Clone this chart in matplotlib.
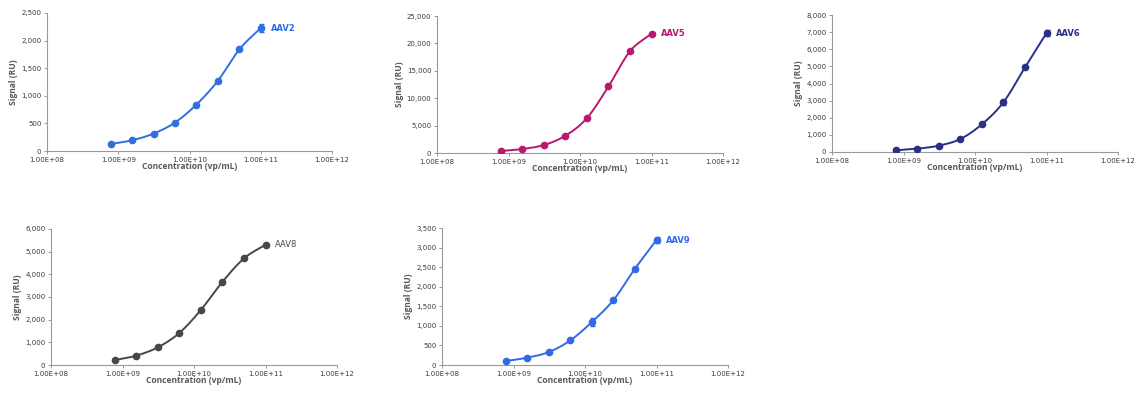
import numpy as np
import matplotlib
matplotlib.use("Agg")
import matplotlib.pyplot as plt
from matplotlib.ticker import FuncFormatter, FixedLocator, NullLocator

plt.rcParams['font.family'] = ['DejaVu Sans']

conc = [7.8e8, 1.56e9, 3.125e9, 6.25e9, 1.25e10, 2.5e10, 5e10, 1e11]

aav2 = [127, 194, 315, 515, 841, 1271, 1840, 2228]
aav2_err = [0, 0, 0, 0, 0, 0, 0, 70]
aav5 = [364, 728, 1456, 3155, 6371, 12136, 18568, 21784]
aav5_err = [0, 0, 0, 0, 0, 0, 0, 0]
aav6 = [98, 195, 371, 761, 1620, 2907, 4937, 6946]
aav6_err = [0, 0, 0, 0, 0, 150, 0, 160]
aav8 = [221, 413, 781, 1415, 2432, 3670, 4703, 5307]
aav8_err = [0, 0, 0, 0, 0, 0, 0, 0]
aav9 = [102, 187, 332, 630, 1098, 1660, 2461, 3193]
aav9_err = [0, 0, 0, 0, 100, 0, 40, 80]

names = ["AAV2", "AAV5", "AAV6", "AAV8", "AAV9"]
series = [aav2, aav5, aav6, aav8, aav9]
errs = [aav2_err, aav5_err, aav6_err, aav8_err, aav9_err]
ymaxs = [2500, 25000, 8000, 6000, 3500]
ysteps = [500, 5000, 1000, 1000, 500]
colors = ["#2F6FE0", "#B8186E", "#2A2F86", "#474747", "#2F6BE6"]
label_colors = ["#2F6FE0", "#B8186E", "#2A2F86", "#474747", "#2F6BE6"]
label_bold = [True, True, True, False, True]

xticks = [1e8, 1e9, 1e10, 1e11, 1e12]
xticklabels = ["1.00E+08", "1.00E+09", "1.00E+10", "1.00E+11", "1.00E+12"]

W, H = 1143, 397
# pixel boxes: left, right, top, bottom
boxes = [(47, 332, 13, 151), (437, 723, 16, 153), (832, 1118, 15, 152),
         (51, 337, 229, 365), (442, 728, 228, 365)]

fig = plt.figure(figsize=(W / 100, H / 100), dpi=100)

def smooth(xs, ys, n=30):
    lx = np.log10(xs)
    ys = np.asarray(ys, float)
    px = np.concatenate([[2 * lx[0] - lx[1]], lx, [2 * lx[-1] - lx[-2]]])
    py = np.concatenate([[2 * ys[0] - ys[1]], ys, [2 * ys[-1] - ys[-2]]])
    outx, outy = [], []
    for i in range(1, len(px) - 2):
        t = np.linspace(0, 1, n, endpoint=False)
        for P, out in ((px, outx), (py, outy)):
            p0, p1, p2, p3 = P[i - 1], P[i], P[i + 1], P[i + 2]
            v = 0.5 * ((2 * p1) + (-p0 + p2) * t + (2 * p0 - 5 * p1 + 4 * p2 - p3) * t ** 2
                       + (-p0 + 3 * p1 - 3 * p2 + p3) * t ** 3)
            out.extend(v)
    outx.append(lx[-1]); outy.append(ys[-1])
    return 10 ** np.array(outx), np.array(outy)

spine_col = "#9A9A9A"
text_col = "#3A3A3A"
label_col = "#595959"

for name, ys, er, ymax, ystep, col, lcol, lb, (l, r, t, b) in zip(
        names, series, errs, ymaxs, ysteps, colors, label_colors, label_bold, boxes):
    ax = fig.add_axes([l / W, (H - b) / H, (r - l) / W, (b - t) / H])
    sx, sy = smooth(conc, ys)
    ax.plot(sx, sy, color=col, lw=1.4, zorder=2)
    ax.errorbar(conc, ys, yerr=er, fmt='o', color=col, ms=4.5, elinewidth=1.0,
                capsize=1.8, capthick=1.0, zorder=3)
    ax.set_xscale('log')
    ax.set_xlim(1e8, 1e12)
    ax.set_ylim(0, ymax)
    ax.xaxis.set_major_locator(FixedLocator(xticks))
    ax.xaxis.set_minor_locator(NullLocator())
    ax.set_xticklabels(xticklabels)
    ax.set_yticks(np.arange(0, ymax + ystep / 2, ystep))
    ax.yaxis.set_major_formatter(FuncFormatter(lambda v, p: f"{int(round(v)):,}"))
    for s in ("top", "right"):
        ax.spines[s].set_visible(False)
    for s in ("left", "bottom"):
        ax.spines[s].set_color(spine_col)
        ax.spines[s].set_linewidth(0.8)
    ax.tick_params(axis='both', which='major', length=2.5, width=0.7, color=spine_col,
                   labelsize=5, labelcolor=text_col, pad=1.5)
    ax.set_xlabel("Concentration (vp/mL)", fontsize=6.1, color=label_col,
                  family=['Open Sans'], fontweight='bold', labelpad=-0.5)
    ax.set_ylabel("Signal (RU)", fontsize=6.1, color=label_col,
                  family=['Open Sans'], fontweight='bold', labelpad=2)
    ax.annotate(name, xy=(conc[-1], ys[-1]), xytext=(7, 0), textcoords='offset points',
                fontsize=6, color=lcol, fontweight='bold' if lb else 'normal',
                va='center', ha='left')

fig.savefig("out.png", dpi=100)
